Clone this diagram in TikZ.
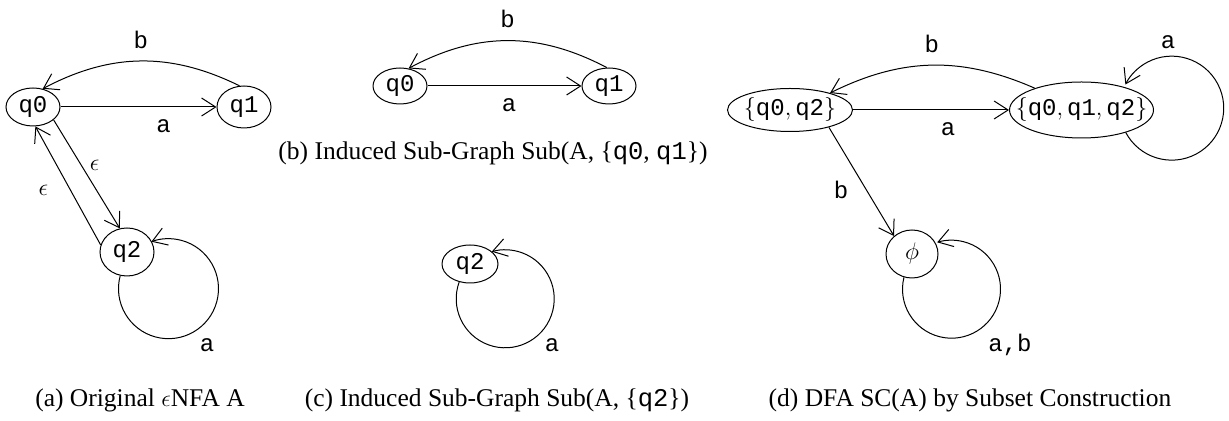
\documentclass[tikz,border=0pt]{standalone}
\usepackage{fontspec}
\setmainfont{Liberation Serif}
\setmonofont{Liberation Mono}
\usepackage{tikz}
\usetikzlibrary{arrows.meta,positioning,shapes.geometric}
\newcommand{\clab}[1]{\makebox[0pt]{#1}}
\tikzset{
  state/.style  = {draw, ellipse, line width=0.5pt, inner sep=0pt,
                   minimum width=27pt, minimum height=19pt,
                   font=\fontsize{12}{14}\selectfont\ttfamily},
  sset/.style   = {state, minimum width=62.5pt, minimum height=21.5pt},
  flow/.style   = {-{Straight Barb[length=7pt,width=9pt]}, line width=0.5pt},
  lbl/.style    = {font=\fontsize{12}{14}\selectfont\ttfamily, inner sep=2pt},
  subcap/.style = {font=\fontsize{12.75}{15}\selectfont, inner sep=0pt},
}

\begin{document}
\begin{tikzpicture}[x=0.5pt, y=-0.5pt]
  \useasboundingbox (0,0) rectangle (1229,421);
  % ---- (a) original eNFA ----
  \node[state] (q0a) at (33,107) {q0};
  \node[state, right=78pt of q0a, minimum height=21pt] (q1a) {q1};
  \node[state, minimum height=24pt] (q2a) at (127,252) {q2};
  \draw[flow] (q0a) -- node[lbl, below=4pt, pos=0.66] {a} (q1a);
  \draw[flow] (q1a.102) to[bend right=27] node[lbl, above=4pt] {b} (q0a.62);
  \draw[flow] (q0a.-32) -- node[lbl, right=2pt, pos=0.42] {$\epsilon$} (q2a.107);
  \draw[flow] (q2a.165) -- node[lbl, left=9pt, pos=0.46] {$\epsilon$} (q0a.-83);
  \draw[flow] (q2a.-106) arc[start angle=165, end angle=470, radius=25pt];
  \node[lbl] (la) at (207,345) {a};
  \node[subcap] (capA) at (140,400) {(a) Original $\epsilon$NFA A};
  % ---- (b) sub-graph on q0, q1 ----
  \node[state, minimum height=18pt] (q0b) at (400,86) {q0};
  \node[state, right=77pt of q0b, minimum height=18pt] (q1b) {q1};
  \draw[flow] (q0b) -- node[lbl, below=4pt, pos=0.53] {a} (q1b);
  \draw[flow] (q1b.97) to[bend right=28] node[lbl, above=4pt] {b} (q0b.64);
  \node[subcap] (capB) at (493,153)
    {(b) Induced Sub-Graph Sub(A, \{\texttt{q0}, \texttt{q1}\})};
  % ---- (c) sub-graph on q2 ----
  \node[state, minimum width=28pt] (q2c) at (470,264) {q2};
  \draw[flow] (q2c.-121) arc[start angle=160, end angle=466, radius=24.5pt];
  \node[lbl] (lc) at (552,345) {a};
  \node[subcap] (capC) at (497,400) {(c) Induced Sub-Graph Sub(A, \{\texttt{q2}\})};
  % ---- (d) subset construction ----
  \node[sset] (s02) at (790,110) {\clab{$\{$q0$,\,$q2$\}$}};
  \node[sset, right=78pt of s02, minimum width=72pt, minimum height=28pt] (s012)
    {\clab{$\{$q0$,\,$q1$,\,$q2$\}$}};
  \node[state, minimum width=26pt, minimum height=24pt] (sphi) at (912,254)
    {$\phi$};
  \draw[flow] (s02) -- node[lbl, below=4pt, pos=0.61] {a} (s012);
  \draw[flow] (s012.155) to[bend right=25] node[lbl, above=4pt] {b} (s02.23);
  \draw[flow] (s02.-24) -- node[lbl, left=7pt, pos=0.58] {b} (sphi.135);
  \draw[flow] (s012.-27) arc[start angle=208, end angle=513, radius=26pt];
  \draw[flow] (sphi.-109) arc[start angle=166, end angle=467, radius=24.5pt];
  \node[lbl] (ld1) at (1168,42) {a};
  \node[lbl] (ld2) at (1010,345) {a,b};
  \node[subcap] (capD) at (970,400) {(d) DFA SC(A) by Subset Construction};
\end{tikzpicture}
\end{document}
